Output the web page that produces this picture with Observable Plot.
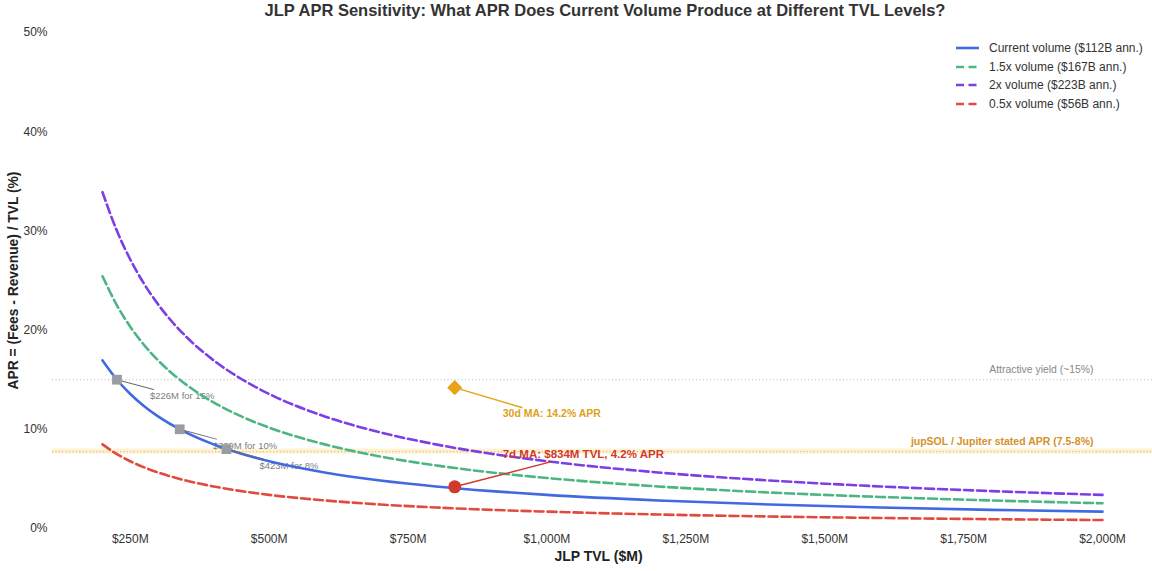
<!DOCTYPE html>
<html>
<head>
<meta charset="utf-8">
<script src="https://cdn.jsdelivr.net/npm/d3@7"></script>
<script src="https://cdn.jsdelivr.net/npm/@observablehq/plot@0.6"></script>
<style>
  html, body { margin: 0; padding: 0; background: #fff; }
  #wrap { position: relative; width: 1152px; height: 571px; font-family: "Liberation Sans", Arial, sans-serif; }
  #title { height: 20px; line-height: 20px; text-align: center; font-weight: bold; font-size: 16.5px; color: #333; padding-left: 58px; box-sizing: border-box; }
  #legend { position: absolute; left: 955px; top: 39px; font-size: 12px; color: #333; }
  #legend .row { height: 18.5px; display: flex; align-items: center; }
  #legend svg { margin-right: 9px; }
</style>
</head>
<body>
<div id="wrap">
  <div id="title">JLP APR Sensitivity: What APR Does Current Volume Produce at Different TVL Levels?</div>
  <div id="chart"></div>
  <div id="legend"></div>
</div>
<script>
// TVL sample points ($M)
const tvl = [200, 225, 250, 275, 300, 350, 400, 450, 500, 600, 700, 800, 900, 1000, 1200, 1400, 1600, 1800, 2000];
// APR (%) for each volume scenario
const aprCurrent = [16.95, 15.07, 13.56, 12.33, 11.30, 9.69, 8.48, 7.53, 6.78, 5.65, 4.84, 4.24, 3.77, 3.39, 2.83, 2.42, 2.12, 1.88, 1.70];
const apr15x = [25.43, 22.60, 20.34, 18.49, 16.95, 14.53, 12.71, 11.30, 10.17, 8.48, 7.26, 6.36, 5.65, 5.09, 4.24, 3.63, 3.18, 2.83, 2.54];
const apr2x = [33.90, 30.13, 27.12, 24.65, 22.60, 19.37, 16.95, 15.07, 13.56, 11.30, 9.69, 8.48, 7.53, 6.78, 5.65, 4.84, 4.24, 3.77, 3.39];
const apr05x = [8.48, 7.53, 6.78, 6.16, 5.65, 4.84, 4.24, 3.77, 3.39, 2.83, 2.42, 2.12, 1.88, 1.70, 1.41, 1.21, 1.06, 0.94, 0.85];

const seriesNames = ["Current volume ($112B ann.)", "1.5x volume ($167B ann.)", "2x volume ($223B ann.)", "0.5x volume ($56B ann.)"];
const seriesColors = ["#4169E1", "#4DB584", "#7B3FE4", "#E04B3F"];
const seriesDashed = [false, true, true, true];

// Break-even markers
const markTvl = [226, 339, 423];
const markApr = [15, 10, 8];
const markLabels = ["$226M for 15%", "$339M for 10%", "$423M for 8%"];

// Reference levels
const attractiveYield = 15;
const jupLow = 7.5, jupHigh = 8;
const jupMid = 7.75;

// Moving averages
const ma30 = {tvl: 834, apr: 14.2, label: "30d MA: 14.2% APR"};
const ma7 = {tvl: 834, apr: 4.2, label: "7d MA: $834M TVL, 4.2% APR"};

const xTicks = [250, 500, 750, 1000, 1250, 1500, 1750, 2000];
const yTicks = [0, 10, 20, 30, 40, 50];
const xLabel = "JLP TVL ($M)";
const yLabel = "APR = (Fees - Revenue) / TVL (%)";

const allSeries = [aprCurrent, apr15x, apr2x, apr05x];
const lineMarks = allSeries.map((vals, i) =>
  Plot.line(tvl.map((t, j) => ({tvl: t, apr: vals[j]})), {
    x: "tvl", y: "apr", curve: "monotone-x",
    stroke: seriesColors[i], strokeWidth: 2.6,
    strokeDasharray: seriesDashed[i] ? "9,4" : null
  })
);
const marks = markTvl.map((t, i) => ({tvl: t, apr: markApr[i], label: markLabels[i]}));

const plot = Plot.plot({
  width: 1152,
  height: 551,
  marginTop: 12,
  marginBottom: 43,
  marginLeft: 52,
  marginRight: 0,
  style: {fontFamily: "'Liberation Sans', Arial, sans-serif", fontSize: "12px", color: "#333", background: "white"},
  x: {domain: [110, 2090], ticks: xTicks, tickFormat: d => "$" + d3.format(",")(d) + "M", tickSize: 0, tickPadding: 6, label: null},
  y: {domain: [0, 50], ticks: yTicks, tickFormat: d => d + "%", tickSize: 0, tickPadding: 5, label: null},
  marks: [
    Plot.rect([0], {y1: jupLow, y2: jupHigh, fill: "#FCE6B4", fillOpacity: 0.55}),
    Plot.ruleY([jupMid], {stroke: "#F2BE55", strokeWidth: 1.2, strokeDasharray: "1.2,2.2"}),
    Plot.ruleY([attractiveYield], {stroke: "#BBBBBB", strokeWidth: 1, strokeDasharray: "1,2.5"}),
    Plot.text([attractiveYield], {x: () => 2000, y: d => d, text: () => "Attractive yield (~15%)", textAnchor: "end", dx: -9, dy: -10, fill: "#888", fontSize: 10.4}),
    Plot.text([jupHigh], {x: () => 2000, y: d => d, text: () => "jupSOL / Jupiter stated APR (7.5-8%)", textAnchor: "end", dx: -9, dy: -8, fill: "#D4922A", fontSize: 10.5, fontWeight: "bold"}),
    Plot.text(marks, {x: "tvl", y: "apr", text: "label", textAnchor: "start", dx: 33, dy: 16.5, fill: "#808080", fontSize: 9.5}),
    ...lineMarks,
    Plot.vector(marks, {x: "tvl", y: "apr", rotate: 105, length: 38, shape: "spike", r: 0, anchor: "start", stroke: "#6B6B6B", fill: "none", strokeWidth: 1}),
    Plot.dot(marks, {x: "tvl", y: "apr", symbol: "square", r: 5.5, fill: "#9A9BA3", stroke: "none"}),
    Plot.vector([ma30], {x: "tvl", y: "apr", rotate: -73.5, length: 70, r: 0.6, anchor: "end", stroke: "#E8A317", strokeWidth: 1.5}),
    Plot.dot([ma30], {x: "tvl", y: "apr", symbol: "diamond2", r: 6.8, fill: "#E8A317", stroke: "none"}),
    Plot.text([ma30], {x: "tvl", y: "apr", text: "label", textAnchor: "start", dx: 48, dy: 26, fill: "#E0A020", fontSize: 10.5, fontWeight: "bold"}),
    Plot.vector([ma7], {x: "tvl", y: "apr", rotate: -104.6, length: 99, r: 0.45, anchor: "end", stroke: "#D0392B", strokeWidth: 1.5}),
    Plot.dot([ma7], {x: "tvl", y: "apr", r: 6.5, fill: "#D0392B", stroke: "none"}),
    Plot.text([ma7], {x: "tvl", y: "apr", text: "label", textAnchor: "start", dx: 48, dy: -33, fill: "#D0392B", fontSize: 11.5, fontWeight: "bold"}),
    Plot.text([xLabel], {text: d => d, frameAnchor: "bottom", dy: 32, dx: -4, fontWeight: "bold", fontSize: 14, fill: "#222"}),
    Plot.text([yLabel], {text: d => d, frameAnchor: "left", textAnchor: "middle", lineAnchor: "middle", rotate: -90, dx: -39, fontWeight: "bold", fontSize: 13.8, fill: "#222"})
  ]
});
document.getElementById("chart").appendChild(plot);

const legend = document.getElementById("legend");
seriesNames.forEach((name, i) => {
  const row = document.createElement("div");
  row.className = "row";
  row.innerHTML = `<svg width="25" height="6"><line x1="1" y1="3" x2="24" y2="3" stroke="${seriesColors[i]}" stroke-width="2.6" ${seriesDashed[i] ? 'stroke-dasharray="8,4.5"' : ''}/></svg><span>${name}</span>`;
  legend.appendChild(row);
});
</script>
</body>
</html>
